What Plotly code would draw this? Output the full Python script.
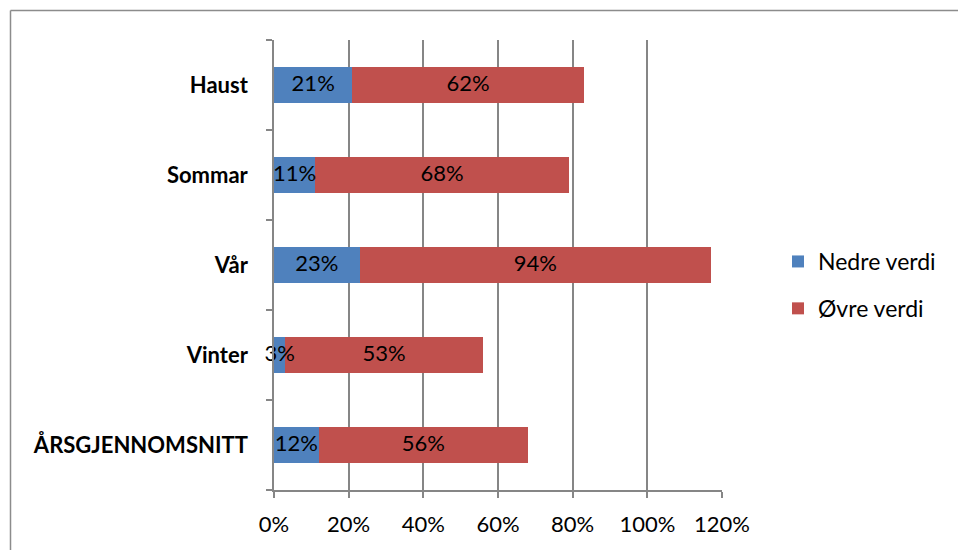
import plotly.graph_objects as go

categories = ["ÅRSGJENNOMSNITT", "Vinter", "Vår", "Sommar", "Haust"]
nedre = [12, 3, 23, 11, 21]
ovre = [56, 53, 94, 68, 62]
x_ticks = [0, 20, 40, 60, 80, 100, 120]

FONT = "Lato, Carlito, Calibri, sans-serif"
GRID = "#868686"

# plot area in pixels
L, R, T, B = 274, 236, 40, 60
W, H = 958, 550
pw, ph = W - L - R, H - T - B


def px_x(px):
    return (px - L) / pw


def px_y(py):
    return (H - B - py) / ph


fig = go.Figure()
fig.add_trace(go.Bar(
    y=categories, x=nedre, orientation="h", name="Nedre verdi",
    marker=dict(color="#4f81bd", line=dict(width=0)),
    legendgroup="a", hoverinfo="skip",
))
fig.add_trace(go.Bar(
    y=categories, x=ovre, orientation="h", name="Øvre verdi",
    marker=dict(color="#c0504d", line=dict(width=0)),
    legendgroup="b", hoverinfo="skip",
))

# value labels on top of both segments
lab_x = [n / 2 for n in nedre] + [n + o / 2 for n, o in zip(nedre, ovre)]
lab_y = categories + categories
lab_t = [f"{v}%" for v in nedre] + [f"{v}%" for v in ovre]
fig.add_trace(go.Scatter(
    x=lab_x, y=lab_y, text=lab_t, mode="text", showlegend=False,
    textfont=dict(family=FONT, size=22, color="black"),
    cliponaxis=False, hoverinfo="skip",
))

# outer chart frame (left and top edges visible)
fig.add_shape(type="line", xref="paper", yref="paper",
              x0=px_x(10.5), x1=px_x(10.5), y0=px_y(560), y1=px_y(10.5),
              line=dict(color="#8c8c8c", width=1.5))
fig.add_shape(type="line", xref="paper", yref="paper",
              x0=px_x(10.5), x1=px_x(970), y0=px_y(10.5), y1=px_y(10.5),
              line=dict(color="#8c8c8c", width=1.5))

fig.update_layout(
    width=W, height=H,
    margin=dict(l=L, r=R, t=T, b=B, autoexpand=False),
    barmode="stack", bargap=0.6,
    plot_bgcolor="white", paper_bgcolor="white",
    font=dict(family=FONT, size=22, color="black"),
    showlegend=True,
    legend=dict(x=px_x(778), y=px_y(285), xanchor="left", yanchor="middle",
                traceorder="grouped", tracegroupgap=14,
                font=dict(family=FONT, size=23, color="black"),
                bgcolor="rgba(0,0,0,0)"),
    xaxis=dict(range=[0, 120], tickvals=x_ticks,
               ticktext=[f"{v}%" for v in x_ticks],
               showgrid=True, gridcolor=GRID, gridwidth=1.5,
               showline=True, linecolor=GRID, linewidth=1.5,
               ticks="outside", ticklen=6, tickcolor=GRID, tickwidth=1.5,
               zeroline=False, ticklabelstandoff=8,
               tickfont=dict(family=FONT, size=22)),
    yaxis=dict(categoryorder="array", categoryarray=categories,
               showline=True, linecolor=GRID, linewidth=1.5,
               ticks="outside", ticklen=6, tickcolor=GRID, tickwidth=1.5,
               tickson="boundaries", showgrid=False, zeroline=False,
               ticklabelstandoff=20,
               tickfont=dict(family=FONT, size=22)),
)
fig.update_yaxes(tickvals=categories,
                 ticktext=[f"<b>{c}</b>" for c in categories])

fig.write_html("out.html", config={"displayModeBar": False},
               post_script="document.body.style.margin='0';")
